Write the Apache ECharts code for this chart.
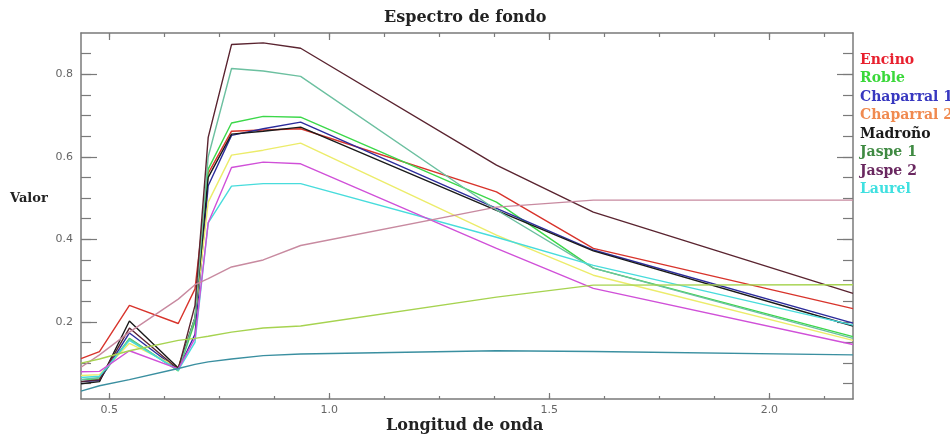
<!DOCTYPE html>
<html>
<head>
<meta charset="utf-8">
<script src="https://cdn.jsdelivr.net/npm/echarts@6/dist/echarts.min.js"></script>
<style>
  html, body { margin: 0; padding: 0; background: #fff; }
  #chart { width: 950px; height: 438px; }
</style>
</head>
<body>
<div id="chart"></div>
<script>
// ---- Data ----
const wavelengths = [0.436, 0.478, 0.546, 0.657, 0.695, 0.725, 0.778, 0.85, 0.935, 1.38, 1.6, 2.19];

const encino      = [0.111, 0.128, 0.240, 0.196, 0.280, 0.560, 0.662, 0.665, 0.668, 0.515, 0.378, 0.232];
const roble       = [0.060, 0.062, 0.160, 0.081, 0.200, 0.570, 0.682, 0.698, 0.696, 0.490, 0.330, 0.164];
const chaparral1  = [0.055, 0.058, 0.173, 0.084, 0.170, 0.530, 0.652, 0.668, 0.684, 0.475, 0.374, 0.197];
const chaparral2  = [0.070, 0.072, 0.148, 0.090, 0.210, 0.490, 0.604, 0.616, 0.633, 0.410, 0.313, 0.155];
const madrono     = [0.050, 0.055, 0.202, 0.088, 0.210, 0.550, 0.655, 0.662, 0.672, 0.470, 0.372, 0.190];
const jaspe1      = [0.060, 0.065, 0.158, 0.082, 0.210, 0.600, 0.814, 0.808, 0.795, 0.471, 0.330, 0.160];
const jaspe2      = [0.055, 0.060, 0.185, 0.085, 0.240, 0.647, 0.872, 0.876, 0.863, 0.580, 0.466, 0.269];
const laurel      = [0.065, 0.068, 0.155, 0.083, 0.150, 0.440, 0.529, 0.535, 0.535, 0.405, 0.337, 0.192];
const extraMagenta     = [0.079, 0.080, 0.130, 0.086, 0.160, 0.440, 0.574, 0.587, 0.583, 0.378, 0.281, 0.145];
const extraPink        = [0.090, 0.120, 0.175, 0.255, 0.290, 0.305, 0.333, 0.350, 0.385, 0.478, 0.495, 0.495];
const extraYellowGreen = [0.100, 0.110, 0.130, 0.155, 0.160, 0.165, 0.175, 0.185, 0.190, 0.260, 0.289, 0.290];
const extraTeal        = [0.032, 0.045, 0.060, 0.087, 0.097, 0.103, 0.110, 0.118, 0.122, 0.130, 0.128, 0.120];

const legendNames  = ['Encino', 'Roble', 'Chaparral 1', 'Chaparral 2', 'Madroño', 'Jaspe 1', 'Jaspe 2', 'Laurel'];
const legendColors = ['#e8202e', '#3ad83a', '#3838c0', '#f08a50', '#1a1a1a', '#3f8a42', '#6a2860', '#40e0e0'];

const xTickLabels = [0.5, 1.0, 1.5, 2.0];
const xMinorTicks = [0.5, 0.625, 0.75, 0.875, 1.0, 1.125, 1.25, 1.375, 1.5, 1.625, 1.75, 1.875, 2.0, 2.125];
const yTickLabels = [0.2, 0.4, 0.6, 0.8];
const yMinorTicks = [0.05, 0.1, 0.15, 0.2, 0.25, 0.3, 0.35, 0.4, 0.45, 0.5, 0.55, 0.6, 0.65, 0.7, 0.75, 0.8, 0.85];

// ---- Series definitions (name, values, line colour) ----
const seriesDefs = [
  ['Encino', encino, '#d8342c'],
  ['Roble', roble, '#3cd84a'],
  ['Chaparral 1', chaparral1, '#2c2c9c'],
  ['Chaparral 2', chaparral2, '#ecec6a'],
  ['Madroño', madrono, '#1a1a1a'],
  ['Jaspe 1', jaspe1, '#6cc0a0'],
  ['Jaspe 2', jaspe2, '#5a2430'],
  ['Laurel', laurel, '#48dcdc'],
  ['Extra magenta', extraMagenta, '#d050d8'],
  ['Extra rosa', extraPink, '#c88aa0'],
  ['Extra verde', extraYellowGreen, '#a6d350'],
  ['Extra azul', extraTeal, '#3a8fa0']
];

const X_MIN = 0.436, X_MAX = 2.19, Y_MIN = 0.013, Y_MAX = 0.9;
const axisColor = '#7a7a7a';
const serif = '"DejaVu Serif", serif';

function xAxisDef(position, ticks, len, showLine, labels) {
  return {
    type: 'value', min: X_MIN, max: X_MAX, position: position,
    axisLine: { show: showLine, lineStyle: { color: axisColor, width: 1.5 } },
    axisTick: { show: true, inside: true, length: len, customValues: ticks, lineStyle: { color: axisColor, width: 1.2 } },
    axisLabel: labels ? {
      show: true, customValues: xTickLabels, margin: 6,
      color: '#666', fontSize: 11, fontFamily: '"DejaVu Sans", sans-serif',
      formatter: v => Number(v).toFixed(1)
    } : { show: false },
    splitLine: { show: false }
  };
}
function yAxisDef(position, ticks, len, showLine, labels) {
  return {
    type: 'value', min: Y_MIN, max: Y_MAX, position: position,
    axisLine: { show: showLine, lineStyle: { color: axisColor, width: 1.5 } },
    axisTick: { show: true, inside: true, length: len, customValues: ticks, lineStyle: { color: axisColor, width: 1.2 } },
    axisLabel: labels ? {
      show: true, customValues: yTickLabels, margin: 8,
      color: '#666', fontSize: 11, fontFamily: '"DejaVu Sans", sans-serif',
      formatter: v => Number(v).toFixed(1)
    } : { show: false },
    splitLine: { show: false }
  };
}

const chart = echarts.init(document.getElementById('chart'), null, { renderer: 'canvas' });
chart.setOption({
  backgroundColor: '#fff',
  animation: false,
  grid: { left: 81, right: 97, top: 33, bottom: 39, containLabel: false },
  xAxis: [
    xAxisDef('bottom', xMinorTicks, 3, true, true),
    xAxisDef('bottom', xTickLabels, 6, false, false),
    xAxisDef('top', xMinorTicks, 4, true, false),
    xAxisDef('top', xTickLabels, 7, false, false)
  ],
  yAxis: [
    yAxisDef('left', yMinorTicks, 10, true, true),
    yAxisDef('left', yTickLabels, 16, false, false),
    yAxisDef('right', yMinorTicks, 10, true, false),
    yAxisDef('right', yTickLabels, 16, false, false)
  ],
  legend: {
    orient: 'vertical', left: 860, top: 53, icon: 'none',
    itemWidth: 0, itemHeight: 14, itemGap: 4.5, padding: 0,
    selectedMode: false,
    textStyle: { fontFamily: serif, fontWeight: 'bold', fontSize: 14, padding: [0, 0, 0, -5] },
    data: legendNames.map((n, i) => ({ name: n, textStyle: { color: legendColors[i] } }))
  },
  graphic: [
    { type: 'text', left: 384, top: 10, style: { text: 'Espectro de fondo', font: 'bold 16px ' + serif, fill: '#222' } },
    { type: 'text', left: 10, top: 192, style: { text: 'Valor', font: 'bold 13px ' + serif, fill: '#222' } },
    { type: 'text', left: 386, top: 418, style: { text: 'Longitud de onda', font: 'bold 16px ' + serif, fill: '#222' } }
  ],
  series: seriesDefs.map(([name, vals, color]) => ({
    name: name, type: 'line', xAxisIndex: 0, yAxisIndex: 0,
    data: wavelengths.map((w, i) => [w, vals[i]]),
    showSymbol: false, symbol: 'none',
    lineStyle: { color: color, width: 1.4 },
    itemStyle: { color: color },
    clip: true
  }))
});
</script>
</body>
</html>
